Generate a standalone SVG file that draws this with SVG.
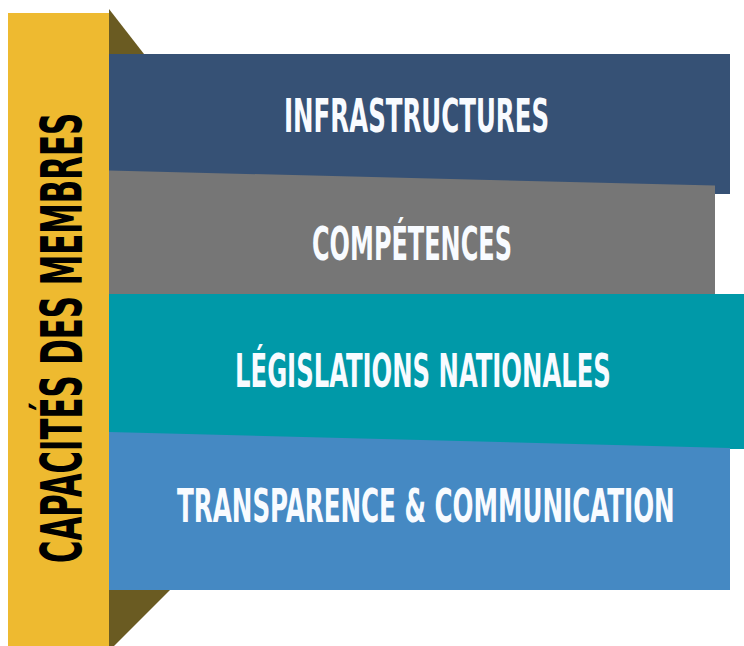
<svg xmlns="http://www.w3.org/2000/svg" width="744" height="646" viewBox="0 0 744 646">
<style>
.lbl{font-family:"DejaVu Sans Condensed","DejaVu Sans","Liberation Sans",sans-serif;font-weight:bold;fill:#F8FBFF;font-size:39px}
.side{font-family:"DejaVu Sans Condensed","DejaVu Sans","Liberation Sans",sans-serif;font-weight:bold;fill:#000;font-size:48px}
.shade{fill:#6A5B22}
</style>
<rect width="744" height="646" fill="#fff"/>
<g id="bar">
<polygon class="shade" points="109,9 144,54 109,54"/>
<polygon class="shade" points="109,590 170,590 114,646 109,646"/>
<rect x="8" y="13" width="101" height="633" fill="#EEBA30"/>
<text class="side" transform="translate(82,563) rotate(-90) scale(0.7,1.2)" textLength="643" lengthAdjust="spacingAndGlyphs">CAPACITÉS DES MEMBRES</text>
</g>
<g id="infrastructures">
<rect x="109" y="54" width="621" height="140" fill="#365175"/>
<text class="lbl" transform="translate(284,131.5) scale(0.7,1.2)" textLength="378.6" lengthAdjust="spacingAndGlyphs">INFRASTRUCTURES</text>
</g>
<g id="competences">
<polygon points="109,170.5 715,185.5 715,294 109,294" fill="#767676"/>
<text class="lbl" transform="translate(312,259.5) scale(0.7,1.2)" textLength="285.7" lengthAdjust="spacingAndGlyphs">COMPÉTENCES</text>
</g>
<g id="legislations">
<polygon points="109,294 744,294 744,449 109,449" fill="#0099A8"/>
</g>
<g id="transparence">
<polygon points="109,432 730,448 730,590 109,590" fill="#4589C3"/>
<text class="lbl" transform="translate(177,521.5) scale(0.7,1.2)" textLength="711" lengthAdjust="spacingAndGlyphs">TRANSPARENCE &amp; COMMUNICATION</text>
</g>
<g id="legislations-label">
<text class="lbl" transform="translate(235,386.5) scale(0.7,1.2)" textLength="537" lengthAdjust="spacingAndGlyphs">LÉGISLATIONS NATIONALES</text>
</g>
</svg>
